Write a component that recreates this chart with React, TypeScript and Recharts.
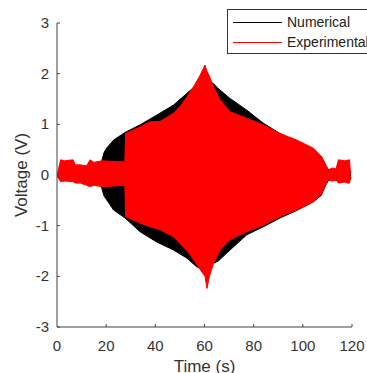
import React from 'react';
import { ComposedChart, Area, XAxis, YAxis } from 'recharts';

// Numerical (black) envelope
const numTime = [0.3, 5, 10, 15, 17.8, 18.3, 19.2, 20.2, 23, 27.7, 33.8, 40.5, 47.4, 52.8, 56.8, 60.5, 63.7, 65.5, 70.4, 77.2, 84, 90.7, 97.5, 104.3, 107.5, 109.3, 110.5, 115, 118.6, 119.6];
const numUpper = [0.05, 0.12, 0.12, 0.12, 0.15, 0.3, 0.45, 0.53, 0.69, 0.84, 0.99, 1.18, 1.38, 1.61, 1.78, 1.9, 1.8, 1.71, 1.51, 1.28, 1.02, 0.82, 0.66, 0.5, 0.36, 0.18, 0.1, 0.1, 0.16, 0.05];
const numLower = [-0.05, -0.1, -0.1, -0.1, -0.15, -0.28, -0.42, -0.49, -0.69, -0.85, -1.12, -1.32, -1.48, -1.64, -1.81, -1.9, -1.74, -1.7, -1.48, -1.18, -1.02, -0.85, -0.7, -0.53, -0.4, -0.2, -0.1, -0.1, -0.16, -0.05];

// Experimental (red) envelope
const expTime = [0.2, 1, 1.5, 3, 6.5, 7.5, 9.5, 12, 13.5, 15, 18.2, 22, 27.6, 27.9, 33.8, 37.8, 42, 47.4, 50, 53, 56, 58, 60.2, 61, 62, 63.7, 66.4, 70.4, 77.2, 84, 90.7, 97.5, 104.3, 107.7, 109.8, 110.4, 112, 113.5, 114.5, 117, 119, 119.4];
const expUpper = [0.02, 0.2, 0.3, 0.28, 0.3, 0.2, 0.2, 0.18, 0.3, 0.25, 0.28, 0.27, 0.26, 0.82, 0.95, 1.05, 1.06, 1.22, 1.35, 1.55, 1.78, 1.95, 2.17, 2.05, 1.95, 1.74, 1.48, 1.25, 1.12, 0.99, 0.82, 0.69, 0.53, 0.36, 0.16, 0.1, 0.14, 0.12, 0.3, 0.28, 0.3, 0.02];
const expLower = [-0.02, -0.1, -0.13, -0.12, -0.13, -0.16, -0.16, -0.2, -0.23, -0.2, -0.23, -0.22, -0.2, -0.82, -0.95, -1.02, -1.08, -1.22, -1.35, -1.5, -1.7, -1.85, -2.0, -2.24, -2.0, -1.74, -1.48, -1.28, -1.12, -0.99, -0.82, -0.69, -0.53, -0.36, -0.13, -0.1, -0.12, -0.1, -0.16, -0.14, -0.16, -0.02];

const xTicks = [0, 20, 40, 60, 80, 100, 120];
const yTicks = [-3, -2, -1, 0, 1, 2, 3];

const AXIS = '#404040';
const FONT = '"Liberation Sans", Arial, sans-serif';

const numData = numTime.map((t, i) => ({ t, range: [numLower[i], numUpper[i]] }));
const expData = expTime.map((t, i) => ({ t, range: [expLower[i], expUpper[i]] }));

// MATLAB-style ticks point into the plot
const XTick = (props: any) => {
  const { x, y, payload } = props;
  return (
    <g>
      {payload.value !== 0 && <line x1={x} x2={x} y1={y} y2={y - 3} stroke={AXIS} />}
      <text x={x} y={y + 24} textAnchor="middle" fill="#333" fontSize={15} fontFamily={FONT}>
        {payload.value}
      </text>
    </g>
  );
};

const YTick = (props: any) => {
  const { x, y, payload } = props;
  return (
    <g>
      <line x1={x} x2={x + 3} y1={y} y2={y} stroke={AXIS} />
      <text x={x - 8} y={y + 5} textAnchor="end" fill="#333" fontSize={15} fontFamily={FONT}>
        {payload.value}
      </text>
    </g>
  );
};

export default function App() {
  return (
    <div style={{ position: 'fixed', left: 0, top: 0, width: 367, height: 373, overflow: 'hidden', background: '#fff' }}>
      <ComposedChart width={367} height={373} margin={{ top: 23, right: 15, bottom: 0, left: 0 }}>
        <XAxis
          dataKey="t"
          type="number"
          domain={[0, 120]}
          ticks={xTicks}
          height={46}
          stroke={AXIS}
          tickSize={0}
          tickMargin={0}
          tickLine={false}
          tick={<XTick />}
          allowDataOverflow
        />
        <YAxis
          type="number"
          domain={[-3, 3]}
          ticks={yTicks}
          width={57}
          stroke={AXIS}
          tickSize={0}
          tickMargin={0}
          tickLine={false}
          tick={<YTick />}
          allowDataOverflow
        />
        <Area
          data={numData}
          dataKey="range"
          type="linear"
          stroke="#000"
          strokeWidth={1}
          fill="#000"
          fillOpacity={1}
          isAnimationActive={false}
        />
        <Area
          data={expData}
          dataKey="range"
          type="linear"
          stroke="#ff0000"
          strokeWidth={1}
          fill="#ff0000"
          fillOpacity={1}
          isAnimationActive={false}
        />
      </ComposedChart>

      <svg width={367} height={373} style={{ position: 'absolute', left: 0, top: 0, pointerEvents: 'none' }}>
        <text x={204.5} y={372} textAnchor="middle" fill="#333" fontSize={17} fontFamily={FONT}>
          Time (s)
        </text>
        <text
          x={21}
          y={175}
          textAnchor="middle"
          dominantBaseline="central"
          transform="rotate(-90 21 175)"
          fill="#333"
          fontSize={17}
          fontFamily={FONT}
        >
          Voltage (V)
        </text>
      </svg>

      <div
        style={{
          position: 'absolute',
          left: 227,
          top: 9,
          width: 160,
          height: 43,
          border: '1px solid #333',
          background: '#fff',
          fontFamily: FONT,
          fontSize: 14,
          color: '#222',
        }}
      >
        <div style={{ position: 'absolute', left: 5, top: 12, width: 49, height: 1, background: '#000' }} />
        <div style={{ position: 'absolute', left: 59, top: 4 }}>Numerical</div>
        <div style={{ position: 'absolute', left: 5, top: 32, width: 49, height: 1, background: '#ff0000' }} />
        <div style={{ position: 'absolute', left: 59, top: 24 }}>Experimental</div>
      </div>
    </div>
  );
}
